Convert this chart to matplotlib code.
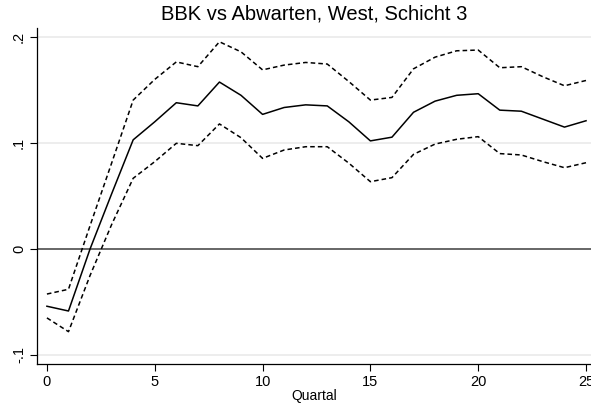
import numpy as np
import matplotlib
matplotlib.use("Agg")
import matplotlib.pyplot as plt

plt.rcParams['font.family'] = ['Liberation Sans', 'DejaVu Sans']

quartal = list(range(26))
effekt = [-0.054, -0.0585, 0.0, 0.052, 0.103, 0.120, 0.138, 0.135, 0.1575, 0.145,
          0.127, 0.1335, 0.136, 0.135, 0.120, 0.102, 0.1055, 0.129, 0.1395, 0.145,
          0.1465, 0.131, 0.130, 0.1225, 0.115, 0.121]
obere = [-0.0425, -0.038, 0.022, 0.081, 0.1405, 0.160, 0.1765, 0.172, 0.1955, 0.186,
         0.169, 0.1735, 0.176, 0.1745, 0.158, 0.1405, 0.143, 0.170, 0.181, 0.187,
         0.1877, 0.171, 0.172, 0.1625, 0.154, 0.159]
untere = [-0.065, -0.078, -0.025, 0.023, 0.0667, 0.0824, 0.0997, 0.0975, 0.118, 0.105,
          0.0855, 0.0934, 0.0965, 0.0965, 0.081, 0.0635, 0.0673, 0.0893, 0.099, 0.1035,
          0.106, 0.090, 0.0887, 0.0824, 0.0767, 0.0814]

fig = plt.figure(figsize=(5.91, 4.05), dpi=100)
ax = fig.add_axes([37/591, 41/405, 1 - 37/591, (364 - 28)/405])

# grid + null line
for yv in [-0.1, 0.1, 0.2]:
    ax.axhline(yv, color='#eaeaea', lw=1.2, zorder=0)
ax.axhline(0, color='#5a5a5a', lw=1.3, zorder=1)

ax.plot(quartal, obere, color='black', lw=1.1, ls=(0, (3, 2)))
ax.plot(quartal, effekt, color='black', lw=1.1)
ax.plot(quartal, untere, color='black', lw=1.1, ls=(0, (3, 2)))

ax.set_xlim(-0.46, 25.23)
ax.set_ylim(-0.1085, 0.2085)
ax.set_xticks([0, 5, 10, 15, 20, 25])
ax.set_yticks([-0.1, 0, 0.1, 0.2])
ax.set_yticklabels(['-.1', '0', '.1', '.2'], rotation=90, va='center')
ax.tick_params(labelsize=10.5, length=5, width=0.8, color='black', pad=3)
ax.spines['top'].set_visible(False)
ax.spines['right'].set_visible(False)
ax.spines['left'].set_linewidth(0.9)
ax.spines['bottom'].set_linewidth(0.9)
ax.set_xlabel('Quartal', fontsize=10, labelpad=0)
ax.set_title('BBK vs Abwarten, West, Schicht 3', fontsize=14.5, pad=6)

plt.savefig('out.png', dpi=100)
